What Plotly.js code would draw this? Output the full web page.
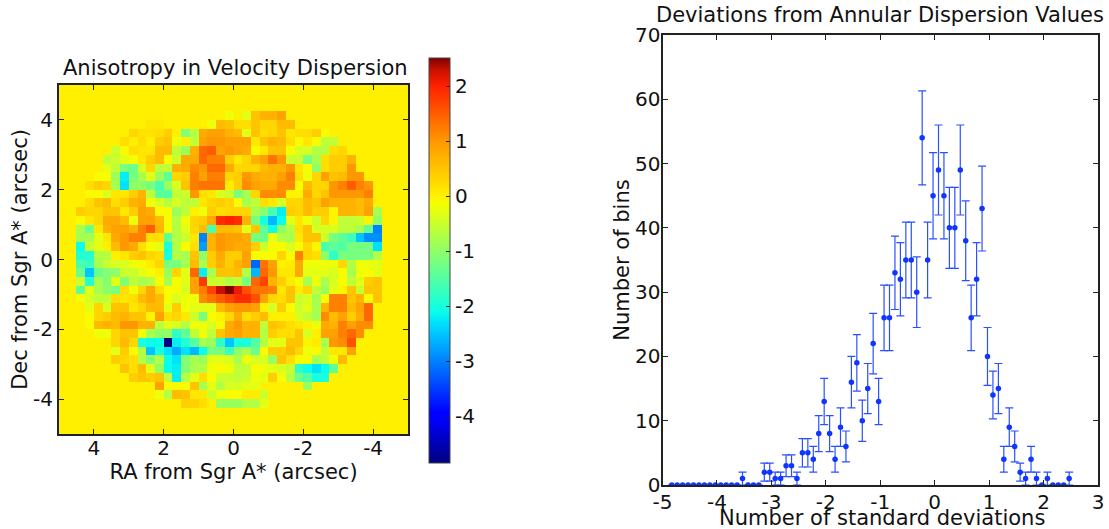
<!DOCTYPE html>
<html><head><meta charset="utf-8">
<script src="https://cdn.plot.ly/plotly-3.0.1.min.js"></script>
<style>html,body{margin:0;padding:0;background:#fff}</style></head>
<body><div id="g" style="width:1109px;height:529px"></div>
<script>
const zRows=[
[],[],[],
[0,0,0,0,0,0,0,0,0,0,0,0,0,0,0,0,0,0,0,-.2,0,-.3,.5,.7,.7,.9],
[0,0,0,0,0,0,0,0,0,0,.1,.1,0,0,0,0,0,-.2,.6,.5,.2,.2,.5,.3,.3,.6,.6],
[0,0,0,0,0,0,0,0,.3,.15,.15,.2,.4,0,-1.1,-.7,.8,.9,.9,.7,.6,-.3,.5,.2,.3,.5,.1,.2,.2,.4,-.1],
[0,0,0,0,0,0,0,.2,0,.2,0,.4,.5,-.2,0,-.6,.9,1,1,.9,.9,.9,.1,.5,.7,.6,.2,-.1,.1,-.1,-.6,-.6],
[0,0,0,0,0,0,-.5,-.1,.2,.1,.1,.6,.6,-.6,-.9,.7,1.4,1.5,.9,1,.9,.8,-.1,.1,.5,.5,-.1,-.4,-.4,-.7,-.7,.2,.3],
[0,0,0,0,0,-.6,-.5,-.3,-.1,.1,.4,.6,-.1,-.5,.8,.8,1.4,1.2,1.2,.4,.1,.3,.7,.9,1.3,1,-.5,-.5,-1.2,-.8,.2,.4,.4,.7],
[0,0,0,0,0,-.3,-.6,-1.2,-1.3,-.4,.3,-.6,-.6,.7,.8,1.1,1,1.4,1.4,.8,.3,.3,.3,.6,.7,.7,1,.1,-.1,-1,.2,.4,.4,1],
[0,0,0,0,-.1,-.1,-.9,-2.2,-1.2,-.8,-.3,-.9,-1.4,.3,.4,1.2,.9,1.2,1.2,.3,.4,1,.8,.7,.7,.9,1.2,.2,-.2,.3,.9,.5,.6,1,1],
[0,0,0,.2,.4,.3,-.8,-2.3,-1,-1,-1.2,-1.6,-.9,-.4,.5,1.2,1.3,1.3,1.3,.05,.4,1.1,.9,.8,.8,1.1,1.1,-.1,.6,.3,.3,1,1.2,1.5,1.2,1],
[0,0,0,-.1,-.1,-.4,.1,.1,.4,.7,-.6,-1.4,-1.5,-.6,-.5,1,.2,.1,-.4,-.5,-1.2,-.8,.3,1.1,1.1,1.1,-.05,-.05,.8,.3,.5,1,1,1,1,1.2],
[0,0,0,.2,.5,.6,.2,.4,.7,.8,-.2,-.4,-.7,-.4,-.6,-.6,.1,.3,.4,.3,-.1,-.8,-.6,.2,.1,-.4,.3,.3,.6,.5,.9,.7,.7,.7,.6,.8],
[0,0,.4,.3,.3,.5,.5,.1,.4,.9,.8,-.1,-.1,-.9,-.6,0,-.2,.4,.2,.3,.3,.3,-.8,-1.1,-1.6,-2.2,.4,.3,.6,.4,.4,-.05,.7,.7,.6,.9,-.8],
[0,0,-.1,.1,.3,.8,.8,.6,-.2,.9,.9,.6,-.1,-.7,-.2,.3,.4,.8,1.9,2,1.9,.7,-1.2,-2,-2.6,-2.1,-.3,.1,-.2,-.5,.3,-.05,-.6,-.6,-.5,-.05,-1],
[0,0,-.8,-1.3,.1,.7,.9,.9,.7,1.2,1.5,.7,-.1,-.7,-.3,.3,.6,-1.6,.6,.6,.5,-.3,.5,-1.4,-2.1,-1,-.7,.2,.5,-.4,-.4,-.4,-.6,-.6,-.8,-1.4,-3],
[0,0,-.8,-.8,-.3,.1,.8,1,1.2,1.2,.2,.2,-1.4,-.7,-.5,.1,-3,.7,1,.9,.9,.8,-1.2,-1.3,-.2,-.7,-.8,.1,.5,.5,-.5,-1.2,-1.4,-1.7,-2.5,-2.9,-2.9],
[0,0,-2.1,-.5,-.3,0,.6,1,.8,.2,-.1,-.3,-2,-.7,-.1,.2,-2.8,.7,1,.9,.8,.8,.4,-.5,-.1,-.1,-.4,-.1,.3,-.05,-1.6,-1.4,-1.5,-1.2,-1.2,-1.2,-2.3],
[0,0,-1.9,-1.9,-.7,-.7,0,.1,.4,.5,.3,.2,-2,-.7,-.8,.5,-1,.4,.8,.4,.4,.9,-.1,-.1,-.1,.3,-.1,1.2,.3,.2,-1,-1.8,-1.2,-1.2,-1.2,-1.2,-.7],
[0,0,-1.6,-1.7,-.8,-.5,-.4,-.4,-.2,-.1,.05,.3,-1.2,-1.2,-.8,.6,-.8,.4,.7,.4,.7,.9,-3.2,1.3,.9,0,.05,.8,-.2,-.2,-.2,-.2,.3,-.7,-.2,-.2,-.3],
[0,0,-1.3,-2.5,-1.3,-1.1,-1,-.5,-.5,-.3,-.1,0,-.9,.3,-.3,1.4,-2.2,-.8,.5,.5,.6,-.7,-2.6,1.4,1,.1,.1,.8,-.3,-.3,-.3,-.4,-.1,-.8,-.2,-.1,-.3],
[0,0,-.5,-1.9,-.8,-1.1,-.3,-1.1,-.6,-.8,-.7,-.1,-.8,-.1,-.3,.9,1.8,-.5,-.5,-.7,-.6,-1.2,1.4,1.7,.7,.4,.05,-.1,-.8,-.2,-.8,-.4,-.1,-.6,-.3,.4,.5],
[0,0,-1.4,-.3,-.8,-1,-1.2,.2,-.2,.3,.8,.2,-.1,-.1,-.4,.9,1.2,1.7,2.3,2.5,2.1,1.6,1.3,1.3,1.2,.1,.5,.05,.3,-.6,-.9,-.3,-.05,.5,-.5,.5,.5],
[0,0,-.1,-.4,-.6,-.6,.2,.1,.2,.6,.8,.6,-.1,-.4,-.2,-.2,1.1,1.3,1.5,1.7,1.9,1.9,1.6,.9,.3,.2,.5,-.5,-.4,-.8,-.1,1.2,1.2,.5,.7,-.1,.5],
[0,0,0,-.3,.3,-.4,.5,.5,.1,.3,.6,.6,-.3,.4,-.2,-.3,-.3,-.3,.6,.9,1,1,.9,0,-.4,.4,-.1,-.5,-.3,-.8,.7,1.2,1.2,.6,.9,1.4],
[0,0,0,-.1,.3,.4,.6,.7,.5,.5,-.05,.9,.2,.3,.1,-.5,-1.2,-.1,0,.3,.8,.2,.4,.6,0,0,0,-.4,-.6,-.8,1.1,.6,.9,.4,.8,1.4],
[0,0,0,-.1,.6,.7,.6,1,1,.7,.7,-.6,-.3,-.4,-.7,-.2,-.2,-.4,-.1,.8,1,.7,.7,-.6,.5,.4,.2,.1,0,-.2,.8,.7,1.2,.9,1.1,1.1],
[0,0,0,0,-.2,-.2,.3,.5,.5,-.2,-.8,-1,-1,-1.8,-1.4,-.6,-.2,-.6,.5,.8,.9,.7,.7,-.7,.4,.2,.2,.5,-.4,0,.9,.9,1.2,1.4,1.1],
[0,0,0,0,0,0,.3,.6,.3,-2,-2.1,-2.1,-4.85,-2.2,-1.9,-1.5,-.8,-.9,-1.8,-2.5,-2,-2,-1.5,-.7,-.3,-.3,.5,.5,-.05,.05,-.8,1,1.1,1.6],
[0,0,0,0,0,0,-.3,.4,-.1,-.7,-2.5,-2,-2.3,-2.7,-2.3,-2.6,-2.1,-1.2,-1.2,-1.7,-1,-.8,-1.3,-.1,.4,.4,.6,.3,-.2,-.1,-.6,.1,.1,.9],
[0,0,0,0,0,0,.4,.3,.2,-.7,-1.1,-.7,-2.1,-2.3,-1.1,-.8,-.9,-.3,-.3,-.4,-.8,-.2,-.4,-.4,-.9,.5,.2,-.1,-.1,-.8,-.6,-.2,.6],
[0,0,0,0,0,0,0,.5,.2,.6,-.3,-1,-2.1,-2.2,-1.1,-.8,-.7,-.2,-.1,-.2,-.6,-.6,-.1,-.2,-.3,-.4,-.5,-1.8,-2.1,-2.3,-2.1,-1.4],
[0,0,0,0,0,0,0,0,.4,.5,.4,.5,-.6,-2.2,-.7,-.3,.2,-.1,-.5,-.5,-.6,-.5,-.2,-.3,.4,-.1,-.7,-1.3,-1.5,-2,-2],
[0,0,0,0,0,0,0,0,0,0,0,.9,-.1,-.1,-.1,.5,-.8,-.3,-.7,-.4,-.4,-.3,-.3,0,0,0,0,0,-.9],
[0,0,0,0,0,0,0,0,0,0,0,-.2,-.7,.6,.5,.1,.1,-.5,-.2,-.1,-.1,.05,.05,-.5],
[0,0,0,0,0,0,0,0,0,0,0,0,0,0,.35,.35,.2,0,-.9,-.9,-.9,-.7,-.7,-.3],
[],[],[]
];
const binCenters=[-4.83,-4.73,-4.63,-4.53,-4.43,-4.33,-4.23,-4.13,-4.03,-3.93,-3.83,-3.73,-3.63,-3.53,-3.43,-3.33,-3.23,-3.13,-3.03,-2.93,-2.83,-2.73,-2.63,-2.53,-2.43,-2.33,-2.23,-2.13,-2.03,-1.93,-1.83,-1.73,-1.63,-1.53,-1.43,-1.33,-1.23,-1.13,-1.03,-.93,-.83,-.73,-.63,-.53,-.43,-.33,-.23,-.13,-.03,.07,.17,.27,.37,.47,.57,.67,.77,.87,.97,1.07,1.17,1.27,1.37,1.47,1.57,1.67,1.77,1.87,1.97,2.07,2.17,2.27,2.37,2.47];
const binCounts=[0,0,0,0,0,0,0,0,0,0,0,0,0,1,0,0,0,2,2,1,1,3,3,1,5,5,4,8,13,8,4,9,6,16,19,10,15,22,13,26,26,33,32,35,35,30,54,35,45,49,45,40,40,49,38,26,32,43,20,14,15,4,9,6,2,1,4,1,0,1,0,0,0,1];
const binErrors=[0,0,0,0,0,0,0,0,0,0,0,0,0,1,0,0,0,1.4,1.4,1,1,1.7,1.7,1,2.2,2.2,2,2.8,3.6,2.8,2,3,2.4,4,4.4,3.2,3.9,4.7,3.6,5.1,5.1,5.7,5.7,5.9,5.9,5.5,7.3,5.9,6.7,7,6.7,6.3,6.3,7,6.2,5.1,5.7,6.6,4.5,3.7,3.9,2,3,2.4,1.4,1,2,1,0,1,0,0,0,1];
const mapTickVals=[4,2,0,-2,-4];
const mapTickText=['4','2','0','-2','-4'];
const cbTickVals=[2,1,0,-1,-2,-3,-4];
const cbTickText=['2','1','0','-1','-2','-3','-4'];
const histXVals=[-5,-4,-3,-2,-1,0,1,2,3];
const histXText=['-5','-4','-3','-2','-1','0','1','2','3'];
const histYVals=[0,10,20,30,40,50,60,70];

// jet-like colour ramp
const jet=[[0,'#00007f'],[.11,'#0000ff'],[.125,'#0000ff'],[.34,'#00dbff'],[.35,'#00e5f7'],[.375,'#0cffea'],[.64,'#f6ff00'],[.659,'#fff000'],[.795,'#ff9800'],[.931,'#ff2000'],[.971,'#c81000'],[1,'#7f0000']];
const W=1109,H=529;
const fam='"DejaVu Sans",sans-serif',ink='#222';
const tf={family:fam,size:20,color:'#111'};
const tt={family:fam,size:21,color:'#111'};
const z=zRows.map(r=>r.concat(new Array(40-r.length).fill(0)));
const ax={showgrid:false,zeroline:false,showline:true,linewidth:2,linecolor:ink,mirror:'ticks',ticks:'inside',ticklen:5,tickwidth:1,tickcolor:ink,tickfont:tf,tickmode:'array'};
const traces=[
 {type:'heatmap',z:z,x0:4.875,dx:-.25,y0:4.875,dy:-.25,xaxis:'x',yaxis:'y',zmin:-4.85,zmax:2.51,zsmooth:false,colorscale:jet,
  colorbar:{x:429/W,xanchor:'left',xpad:0,y:(529-260.5)/H,yanchor:'middle',ypad:0,thickness:21,thicknessmode:'pixels',len:405,lenmode:'pixels',
   tickmode:'array',tickvals:cbTickVals,ticktext:cbTickText,ticks:'inside',ticklen:4,tickcolor:ink,tickfont:tf,outlinewidth:1,outlinecolor:'#444'}},
 {type:'scatter',mode:'markers',x:binCenters,y:binCounts,xaxis:'x2',yaxis:'y2',marker:{color:'#0f35ff',size:5.5},
  error_y:{type:'data',array:binErrors,visible:true,color:'#2a50ff',thickness:1.2,width:4}}
];
const layout={width:W,height:H,margin:{l:0,r:0,t:0,b:0},showlegend:false,paper_bgcolor:'#fff',plot_bgcolor:'#fff',font:{family:fam,color:'#111'},
 xaxis:Object.assign({},ax,{domain:[59/W,408/W],range:[5,-5],tickvals:mapTickVals,ticktext:mapTickText,anchor:'y',ticklabelstandoff:-5,title:{text:'RA from Sgr A* (arcsec)',font:tt,standoff:0}}),
 yaxis:Object.assign({},ax,{domain:[(H-434)/H,(H-85)/H],range:[-5,5],tickvals:mapTickVals,ticktext:mapTickText,anchor:'x',title:{text:'Dec from Sgr A* (arcsec)',font:tt,standoff:0}}),
 xaxis2:Object.assign({},ax,{domain:[662.5/W,1098/W],range:[-5,3],tickvals:histXVals,ticktext:histXText,anchor:'y2',ticklabelstandoff:-2}),
 yaxis2:Object.assign({},ax,{domain:[(H-485)/H,(H-35)/H],range:[0,70],tickvals:histYVals,anchor:'x2',ticklabelstandoff:-4,title:{text:'Number of bins',font:tt,standoff:0}}),
 annotations:[
  {text:'Anisotropy in Velocity Dispersion',xref:'paper',yref:'paper',x:235/W,y:(H-68)/H,xanchor:'center',yanchor:'middle',showarrow:false,font:tt},
  {text:'Deviations from Annular Dispersion Values',xref:'paper',yref:'paper',x:880/W,y:(H-15)/H,xanchor:'center',yanchor:'middle',showarrow:false,font:tt},
  {text:'Number of standard deviations',xref:'paper',yref:'paper',x:882/W,y:(H-518)/H,xanchor:'center',yanchor:'middle',showarrow:false,font:tt,borderpad:0}
 ]};
Plotly.newPlot('g',traces,layout,{displayModeBar:false,staticPlot:true});
</script></body></html>
